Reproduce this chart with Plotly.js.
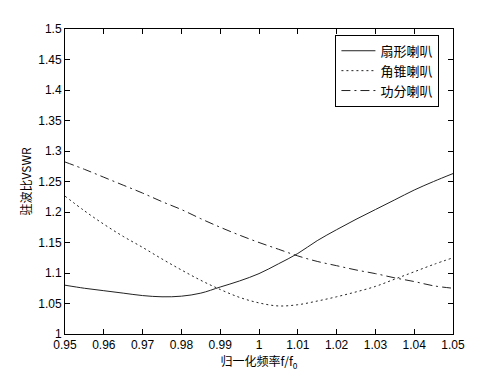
<!DOCTYPE html>
<html>
<head>
<meta charset="utf-8">
<script src="https://cdn.plot.ly/plotly-3.0.1.min.js"></script>
<style>html,body{margin:0;padding:0;background:#fff;}#chart{width:500px;height:375px;}</style>
</head>
<body>
<div id="chart"></div>
<script>
const freq = [0.95,0.955,0.96,0.965,0.97,0.975,0.98,0.985,0.99,0.995,1.00,1.005,1.01,1.015,1.02,1.025,1.03,1.035,1.04,1.045,1.05];
const sectoral = [1.080,1.075,1.071,1.067,1.063,1.061,1.062,1.067,1.077,1.087,1.099,1.115,1.132,1.153,1.171,1.188,1.204,1.220,1.236,1.250,1.263];
const pyramidal = [1.226,1.202,1.180,1.160,1.142,1.123,1.105,1.088,1.073,1.060,1.051,1.046,1.048,1.054,1.061,1.069,1.078,1.090,1.102,1.114,1.125];
const divider = [1.282,1.270,1.257,1.244,1.231,1.217,1.204,1.189,1.175,1.162,1.150,1.139,1.128,1.119,1.112,1.105,1.099,1.092,1.086,1.079,1.075];
const seriesNames = ['扇形喇叭','角锥喇叭','功分喇叭'];
const xTicks = [0.95,0.96,0.97,0.98,0.99,1,1.01,1.02,1.03,1.04,1.05];
const yTicks = [1,1.05,1.1,1.15,1.2,1.25,1.3,1.35,1.4,1.45,1.5];

const cjk = '"Noto Sans CJK SC", "Liberation Sans", sans-serif';
const traces = [
  {x: freq, y: sectoral, name: seriesNames[0], mode: 'lines', line: {color: '#222', width: 1, shape: 'spline'}},
  {x: freq, y: pyramidal, name: seriesNames[1], mode: 'lines', line: {color: '#222', width: 1, dash: '2px,3px', shape: 'spline'}},
  {x: freq, y: divider, name: seriesNames[2], mode: 'lines', line: {color: '#222', width: 1, dash: '9px,4px,2px,4px', shape: 'spline'}}
];
const axisCommon = {
  showgrid: false, zeroline: false, showline: true, linecolor: '#000', linewidth: 1,
  mirror: 'ticks', ticks: 'inside', ticklen: 5, tickcolor: '#000', tickwidth: 1,
  tickfont: {family: '"Liberation Sans", Arial, sans-serif', size: 12, color: '#000'}
};
const layout = {
  width: 500, height: 375,
  margin: {l: 65, r: 47, t: 29, b: 41},
  paper_bgcolor: '#fff', plot_bgcolor: '#fff',
  showlegend: true,
  legend: {x: 0.697, y: 0.981, xanchor: 'left', yanchor: 'top', bgcolor: '#fff',
    bordercolor: '#000', borderwidth: 1, font: {family: cjk, size: 13, color: '#000'},
    tracegroupgap: 0, itemwidth: 34},
  xaxis: Object.assign({}, axisCommon, {range: [0.95, 1.05], tickvals: xTicks,
    ticktext: xTicks.map(v => String(v)),
    title: {text: '归一化频率f/f<sub>0</sub>', font: {family: cjk, size: 12, color: '#000'}, standoff: 4}}),
  yaxis: Object.assign({}, axisCommon, {range: [1, 1.5], tickvals: yTicks,
    ticktext: yTicks.map(v => String(v)),
    title: {text: '驻波比VSWR', font: {family: cjk, size: 12, color: '#000'}, standoff: 4}})
};
Plotly.newPlot('chart', traces, layout, {displayModeBar: false, staticPlot: true});
</script>
</body>
</html>
